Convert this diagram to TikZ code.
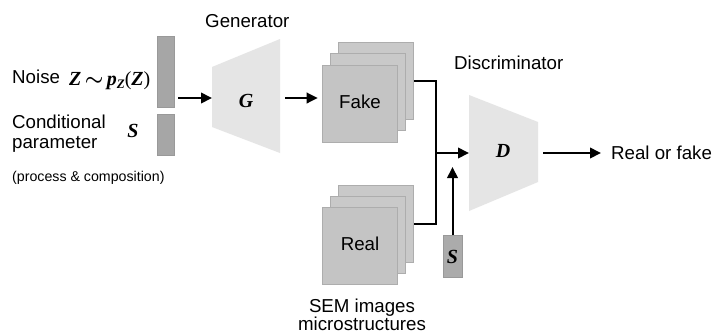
\documentclass[tikz,border=0pt]{standalone}
\usepackage{amsmath}
\usepackage{fontspec}
\setmainfont{Liberation Sans}
\newfontfamily\mathfnt{Liberation Serif}
\usetikzlibrary{arrows.meta}
\begin{document}
\begin{tikzpicture}[x=1pt,y=-1pt,
  lbl/.style={font=\fontsize{18.7}{21}\selectfont, inner sep=0},
  small/.style={font=\fontsize{14.2}{16}\selectfont, inner sep=0},
  mth/.style={font=\mathfnt\bfseries\itshape\fontsize{20}{22}\selectfont, inner sep=0},
  vecbar/.style={draw=black!40, line width=0.4pt, fill=black!35, inner sep=0},
  img/.style={draw=black!32, line width=0.6pt, fill=black!21, minimum width=75pt, minimum height=77pt, inner sep=0},
  trap/.style={fill=black!10},
  arr/.style={line width=2pt, -{Triangle[length=11pt,width=10.5pt]}},
  conn/.style={line width=1.6pt}]
\useasboundingbox (0,0) rectangle (713,335);
\fill[white] (0,0) rectangle (713,335);

% inputs
\node[lbl, anchor=base west] (noise) at (12,83) {Noise};
\node[mth, anchor=base west] (zdist) at (69,85) {Z$\,\boldsymbol{\sim}\,$p\raisebox{-3pt}{\fontsize{13}{13}\selectfont Z}{\upshape\mdseries(}Z{\upshape\mdseries)}};
\node[lbl, anchor=base west] (cond1) at (12,128) {Conditional};
\node[lbl, anchor=base west] (cond2) at (12,148) {parameter};
\node[mth, anchor=base] (sleft) at (133,137) {S};
\node[small, anchor=base west] (proc) at (12,181) {(process \& composition)};

\node[vecbar, minimum width=17pt, minimum height=71pt] (nbar) at (165.5,71.5) {};
\node[vecbar, minimum width=17pt, minimum height=41pt] (sbar) at (165.5,134.5) {};

% generator
\fill[trap] (212,67) -- (280,39) -- (280,153) -- (212,127) -- cycle;
\coordinate (gin) at (212,98);
\coordinate (gout) at (280,98);
\node[mth] (G) at (246,101) {G};
\node[lbl, anchor=base west] (gen) at (205,27) {Generator};

\draw[arr] ([xshift=4pt]nbar.east |- gin) -- (gin);

% fake stack
\node[img] (fakeback) at (376,81) {};
\node[img] (fakemid) at (368,91.5) {};
\node[img, fill=black!23] (fake) at (359.5,103.5) {};
\node[lbl] (faketxt) at (360,102) {Fake};

\draw[arr] ([xshift=5pt]gout) -- ([xshift=-4pt]fake.west |- gout);

% real stack
\node[img] (realback) at (376,224) {};
\node[img] (realmid) at (368,234.5) {};
\node[img, fill=black!23] (real) at (360,245.5) {};
\node[lbl] (realtxt) at (360,244) {Real};
\node[lbl, anchor=base] (sem) at (362,312) {SEM images};
\node[lbl, anchor=base] (micro) at (362,330.5) {microstructures};

% discriminator
\fill[trap] (469,95) -- (538,122) -- (538,182) -- (469,211) -- cycle;
\coordinate (din) at (469,153);
\coordinate (dout) at (538,153);
\node[mth] (D) at (503,151) {D};
\node[lbl, anchor=base west] (disc) at (454,69) {Discriminator};

\coordinate (jn) at (436,153);
\draw[conn] (fakeback.east) -| (jn) |- (realback.east);
\draw[arr] ([xshift=-0.8pt]jn) -- (din);

\node[vecbar, fill=black!33, minimum width=19pt, minimum height=42pt] (sbox) at (452.5,256) {};
\node[mth] (sright) at (452.5,257) {S};
\coordinate (stip) at (452.5,167);
\draw[arr] (sbox.north) -- (stip);

\node[lbl, anchor=west] (rof) at (611,153) {Real or fake};
\draw[arr] ([xshift=5pt]dout) -- ([xshift=-10pt]rof.west);
\end{tikzpicture}
\end{document}
